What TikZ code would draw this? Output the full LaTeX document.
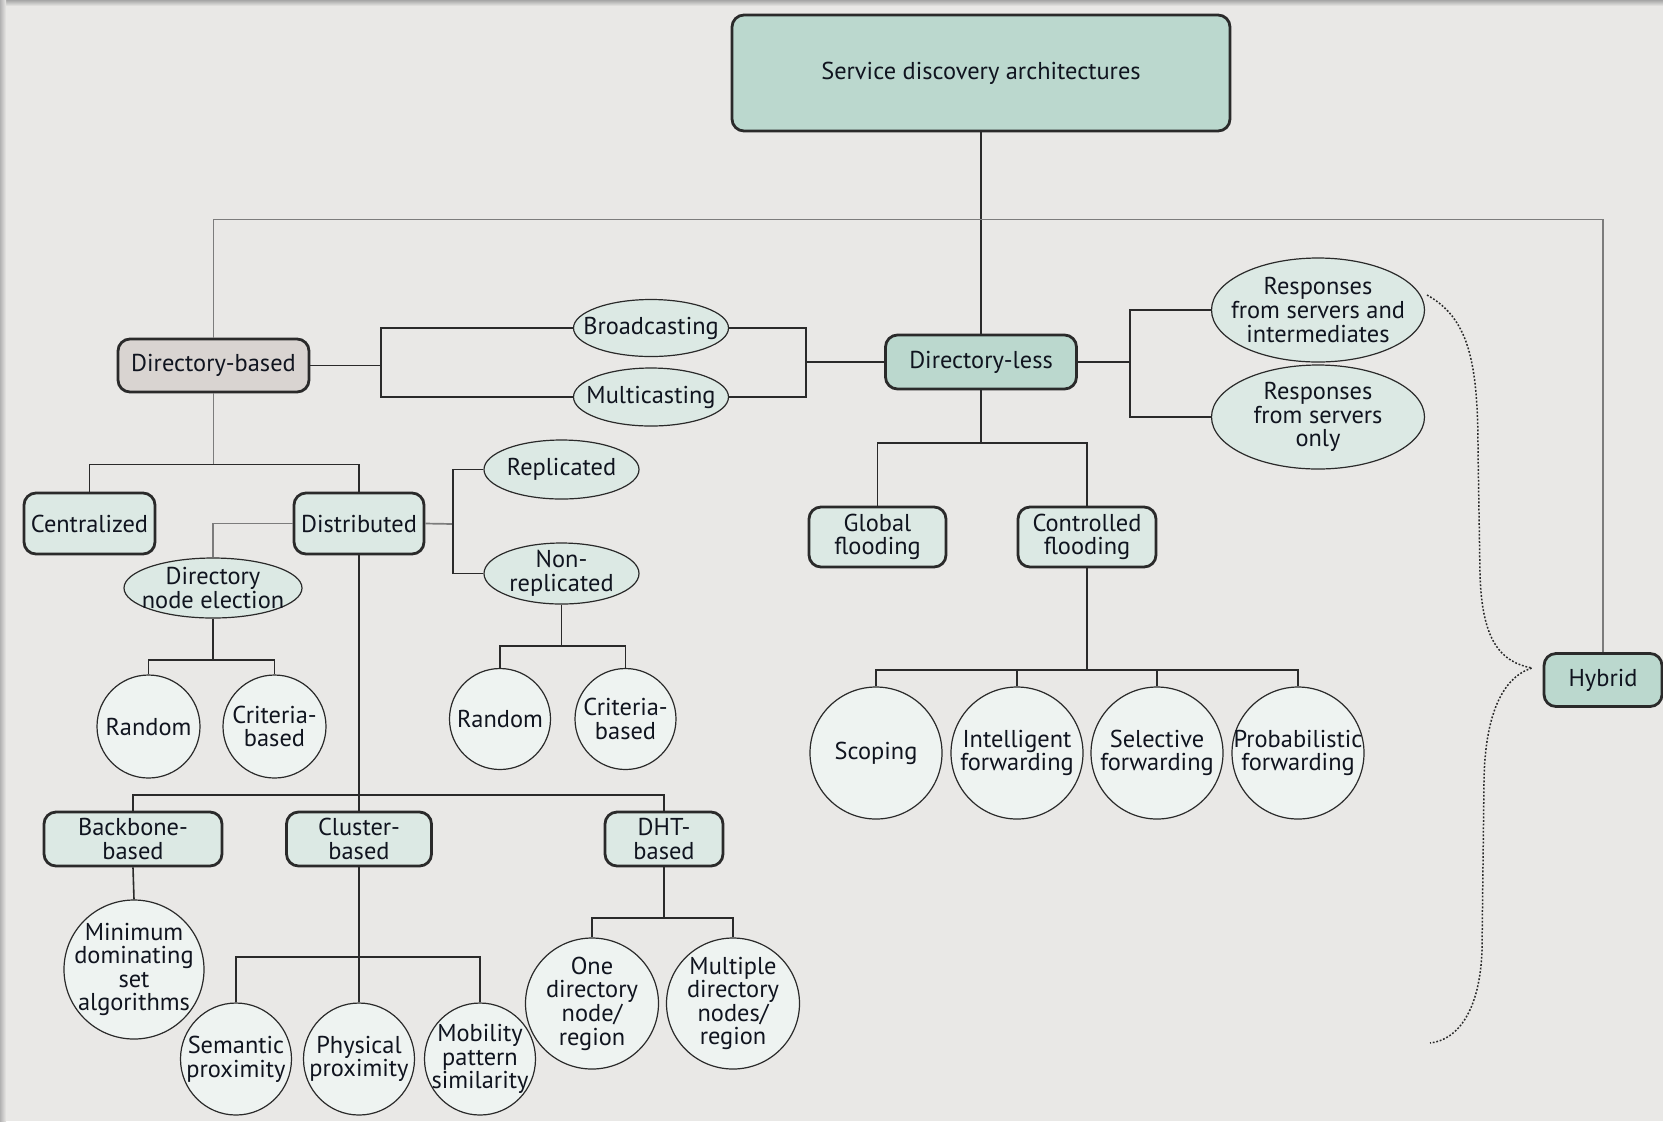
\documentclass[tikz,border=0pt]{standalone}
\usepackage{fontspec}
\setmainfont{PT Sans}
\usetikzlibrary{shapes.geometric,calc}
\definecolor{bg}{HTML}{E9E8E6}
\definecolor{rootc}{HTML}{BBD8CE}
\definecolor{boxc}{HTML}{DCE9E4}
\definecolor{ellc}{HTML}{DCE9E4}
\definecolor{circc}{HTML}{EEF3F1}
\definecolor{dbc}{HTML}{D9D4D1}
\definecolor{linec}{HTML}{2A2A2A}
\definecolor{greyline}{HTML}{7C7C7C}
\definecolor{txt}{HTML}{10141F}
\begin{document}
\begin{tikzpicture}[x=0.5pt,y=-0.5pt,
  every node/.style={font=\fontsize{12.2}{11.8}\selectfont, text=txt, align=center, inner sep=0pt},
  rbox/.style={draw=linec, line width=1.4pt, rounded corners=6pt, fill=boxc},
  ell/.style={ellipse, draw=linec, line width=0.6pt, fill=ellc},
  circ/.style={ellipse, draw=linec, line width=0.6pt, fill=circc},
  conn/.style={draw=linec, line width=0.8pt},
  gconn/.style={draw=greyline, line width=0.85pt},
]
% background and frame shadow
\useasboundingbox (0,0) rectangle (1663,1121);
\fill[bg] (0,0) rectangle (1663,1121);
\shade[top color=black!35, bottom color=bg] (0,0) rectangle (1663,6);
\shade[left color=black!30, right color=bg] (0,0) rectangle (6,1121);

% ---------- nodes ----------
\node[rbox, fill=rootc, minimum width=249pt, minimum height=58pt] (root) at (981,73) {Service discovery architectures};
\node[rbox, fill=dbc, minimum width=95.5pt, minimum height=26.5pt] (dirbased) at (213.5,365.5) {Directory-based};
\node[rbox, fill=rootc, minimum width=95.5pt, minimum height=27pt] (dirless) at (981,362) {Directory-less};
\node[rbox, fill=rootc, minimum width=59pt, minimum height=26.5pt] (hybrid) at (1603,680) {Hybrid};

\node[ell, minimum width=77.5pt, minimum height=28.5pt, label=center:{Broadcasting}] (bcast) at (651,328) {};
\node[ell, minimum width=77.5pt, minimum height=29pt, label=center:{Multicasting}] (mcast) at (651,397) {};

\node[ell, minimum width=106.5pt, minimum height=52pt, label=center:{Responses\\from servers and\\intermediates}] (resp1) at (1318,310) {};
\node[ell, minimum width=106.5pt, minimum height=52pt, label=center:{Responses\\from servers\\only}] (resp2) at (1318,417) {};

\node[rbox, minimum width=68.5pt, minimum height=30pt] (global) at (877.5,537) {Global\\flooding};
\node[rbox, minimum width=69pt, minimum height=30pt] (controlled) at (1087,537) {Controlled\\flooding};

\node[circ, minimum width=66pt, minimum height=66pt, label=center:{Scoping}] (scoping) at (876,753) {};
\node[circ, minimum width=66pt, minimum height=66pt, label=center:{Intelligent\\forwarding}] (intel) at (1017,753) {};
\node[circ, minimum width=66pt, minimum height=66pt, label=center:{Selective\\forwarding}] (select) at (1157,753) {};
\node[circ, minimum width=66pt, minimum height=66pt, label=center:{Probabilistic\\forwarding}] (prob) at (1298,753) {};

\node[rbox, minimum width=65.5pt, minimum height=30.5pt] (central) at (89.5,523.5) {Centralized};
\node[rbox, minimum width=65pt, minimum height=30.5pt] (distrib) at (359,523.5) {Distributed};

\node[ell, minimum width=89pt, minimum height=30pt, label=center:{Directory\\node election}] (dne) at (213,588) {};
\node[circ, minimum width=51.5pt, minimum height=51.5pt, label=center:{Random}] (randa) at (148.5,726.5) {};
\node[circ, minimum width=51.5pt, minimum height=51.5pt, label=center:{Criteria-\\based}] (crita) at (274.5,726.5) {};

\node[ell, minimum width=77.5pt, minimum height=29.5pt, label=center:{Replicated}] (repl) at (561.5,469.5) {};
\node[ell, minimum width=77.5pt, minimum height=30.5pt, label=center:{Non-\\replicated}] (nonrepl) at (561.5,573.5) {};
\node[circ, minimum width=50.5pt, minimum height=50.5pt, label=center:{Random}] (randb) at (500,719) {};
\node[circ, minimum width=50.5pt, minimum height=50.5pt, label=center:{Criteria-\\based}] (critb) at (625.5,719) {};

\node[rbox, minimum width=89pt, minimum height=27pt] (backbone) at (133,839) {Backbone-\\based};
\node[rbox, minimum width=72.5pt, minimum height=27pt] (cluster) at (359,839) {Cluster-\\based};
\node[rbox, minimum width=59pt, minimum height=27pt] (dht) at (664,839) {DHT-\\based};

\node[circ, minimum width=70pt, minimum height=69.5pt, label=center:{Minimum\\dominating\\set\\algorithms}] (mds) at (134,969.5) {};
\node[circ, minimum width=55.5pt, minimum height=56pt, label=center:{Semantic\\proximity}] (semantic) at (236,1059) {};
\node[circ, minimum width=55.5pt, minimum height=56pt, label=center:{Physical\\proximity}] (physical) at (359,1059) {};
\node[circ, minimum width=55.5pt, minimum height=56pt, label=center:{Mobility\\pattern\\similarity}] (mobility) at (480,1059) {};
\node[circ, minimum width=66.5pt, minimum height=65.5pt, label=center:{One\\directory\\node/\\region}] (onedir) at (592,1003.5) {};
\node[circ, minimum width=66.5pt, minimum height=65.5pt, label=center:{Multiple\\directory\\nodes/\\region}] (multdir) at (733,1003.5) {};

% ---------- junction coordinates ----------
\coordinate (topbar) at (981,219.5);
\coordinate (bl) at (381,365.5);
\coordinate (br) at (806,362);
\coordinate (rr) at (1130,362);
\coordinate (dl) at (981,443);
\coordinate (cf) at (1087,670);
\coordinate (db) at (213.5,464.5);
\coordinate (dne2) at (213,660);
\coordinate (dr) at (453,524);
\coordinate (nr) at (561.5,646);
\coordinate (ds) at (359,795);
\coordinate (cs) at (359,957);
\coordinate (hs) at (664,918);

% ---------- connectors ----------
\draw[conn] (root.south) -- (dirless.north);
\draw[gconn] (dirbased.north) |- (topbar -| hybrid.north) -- (hybrid.north);

\draw[conn] (dirbased.east) -- (bl);
\draw[conn] (bcast.west) -| (bl);
\draw[conn] (mcast.west) -| (bl);
\draw[conn] (bcast.east) -| (br);
\draw[conn] (mcast.east) -| (br);
\draw[conn] (br) -- (dirless.west);

\draw[conn] (dirless.east) -- (rr);
\draw[conn] (resp1.west) -| (rr);
\draw[conn] (resp2.west) -| (rr);

\draw[conn] (dirless.south) -- (dl);
\draw[conn] (global.north) |- (dl);
\draw[conn] (controlled.north) |- (dl);

\draw[conn] (controlled.south) -- (cf);
\draw[conn] (scoping.north) |- (cf);
\draw[conn] (intel.north) |- (cf);
\draw[conn] (select.north) |- (cf);
\draw[conn] (prob.north) |- (cf);

\draw[gconn] (dirbased.south) -- (db);
\draw[conn] (central.north) |- (db);
\draw[conn] (distrib.north) |- (db);

\draw[gconn] (distrib.west) -| (dne.north);
\draw[conn] (dne.south) -- (dne2);
\draw[conn] (randa.north) |- (dne2);
\draw[conn] (crita.north) |- (dne2);

\draw[gconn] (distrib.east) -- (dr);
\draw[conn] (repl.west) -| (dr);
\draw[conn] (nonrepl.west) -| (dr);
\draw[conn] (nonrepl.south) -- (nr);
\draw[conn] (randb.north) |- (nr);
\draw[conn] (critb.north) |- (nr);

\draw[conn] (distrib.south) -- (cluster.north);
\draw[conn] (backbone.north) |- (ds);
\draw[conn] (dht.north) |- (ds);

\draw[conn] (backbone.south) -- (mds.north);
\draw[conn] (cluster.south) -- (physical.north);
\draw[conn] (semantic.north) |- (cs);
\draw[conn] (mobility.north) |- (cs);
\draw[conn] (dht.south) -- (hs);
\draw[conn] (onedir.north) |- (hs);
\draw[conn] (multdir.north) |- (hs);

% dotted brace toward Hybrid
\draw[linec, line width=0.75pt, dash pattern=on 0.9pt off 0.9pt]
  (1427,295) .. controls (1468,318) and (1478,360) .. (1478,450)
  -- (1480,575) .. controls (1482,640) and (1500,662) .. (1532,668)
  .. controls (1500,678) and (1485,720) .. (1484,780)
  -- (1482,950) .. controls (1480,1010) and (1458,1040) .. (1430,1043);
\end{tikzpicture}
\end{document}
